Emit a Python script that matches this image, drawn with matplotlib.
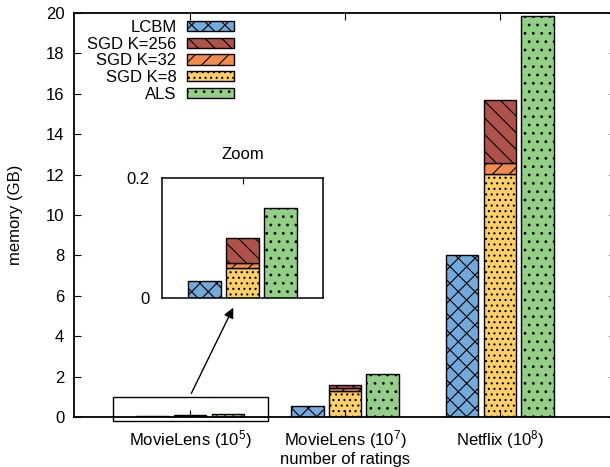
import matplotlib
matplotlib.use("Agg")
import matplotlib.pyplot as plt
from matplotlib.patches import Rectangle
import numpy as np

plt.rcParams['font.family'] = ['Liberation Sans', 'DejaVu Sans']
plt.rcParams['mathtext.fontset'] = 'custom'
plt.rcParams['mathtext.rm'] = 'Liberation Sans'
plt.rcParams['mathtext.it'] = 'Liberation Sans'
plt.rcParams['hatch.linewidth'] = 0.8

categories = [r'MovieLens (10$^{5}$)', r'MovieLens (10$^{7}$)', r'Netflix (10$^{8}$)']
lcbm = [0.029, 0.55, 8.02]
sgd_k8 = [0.05, 1.29, 12.05]
sgd_k32 = [0.059, 1.46, 12.55]
sgd_k256 = [0.10, 1.60, 15.70]
als = [0.15, 2.12, 19.85]
yticks = [0, 2, 4, 6, 8, 10, 12, 14, 16, 18, 20]

c_lcbm = '#74aadb'
c_256 = '#b0524c'
c_32 = '#f18c4c'
c_8 = '#fdcf68'
c_als = '#93cf86'

fig = plt.figure(figsize=(6.10, 4.67), dpi=100)
ax = fig.add_axes([74/610, 50/467, 542/610, 404/467])

x = np.arange(1, len(categories) + 1)
w = 0.21
off = 0.243


def draw_bars(a):
    k8 = np.array(sgd_k8)
    k32 = np.array(sgd_k32)
    k256 = np.array(sgd_k256)
    h = {}
    h['LCBM'] = a.bar(x - off, lcbm, w, color=c_lcbm, edgecolor='black', hatch='xx', linewidth=1)
    h['SGD K=8'] = a.bar(x, k8, w, color=c_8, edgecolor='black', hatch='...', linewidth=1)
    h['SGD K=32'] = a.bar(x, k32 - k8, w, bottom=k8, color=c_32, edgecolor='black', hatch='//', linewidth=1)
    h['SGD K=256'] = a.bar(x, k256 - k32, w, bottom=k32, color=c_256, edgecolor='black', hatch='\\\\', linewidth=1)
    h['ALS'] = a.bar(x + off, als, w, color=c_als, edgecolor='black', hatch='..', linewidth=1)
    return h


h = draw_bars(ax)
ax.set_xlim(0.25, 3.75)
ax.set_ylim(0, 20)
ax.set_yticks(yticks)
ax.set_xticks(x)
ax.set_xticklabels(categories, fontsize=12)
ax.tick_params(axis='y', labelsize=12, direction='in', right=True, length=5, pad=7)
ax.tick_params(axis='x', direction='in', top=True, length=5, pad=8)
ax.set_ylabel('memory (GB)', fontsize=12)
ax.yaxis.set_label_coords(-0.094, 0.5)
ax.set_xlabel('number of ratings', fontsize=12, labelpad=0.5)
for s in ax.spines.values():
    s.set_linewidth(1.3)

order = ['LCBM', 'SGD K=256', 'SGD K=32', 'SGD K=8', 'ALS']
leg = ax.legend([h[k] for k in order], order, loc='upper right',
                bbox_to_anchor=(234/610, 1 - 20/467), bbox_transform=fig.transFigure,
                frameon=False, markerfirst=False, fontsize=12, handlelength=2.85,
                handleheight=0.58, handletextpad=0.6, labelspacing=0.1,
                borderpad=0, borderaxespad=0)

# zoom box around the smallest group
ax.add_patch(Rectangle((x[0] - 0.5, -0.2), 1.0, 1.2, fill=False, edgecolor='black',
                       linewidth=1, clip_on=False, zorder=5))

# inset
ins = fig.add_axes([162/610, (467-298)/467, 161/610, 120/467])
draw_bars(ins)
ins.set_xlim(x[0] - 0.51, x[0] + 0.51)
ins.set_ylim(0, 0.2)
ins.set_yticks([0, 0.2])
ins.set_yticklabels(['0', '0.2'])
ins.set_xticks([x[0]])
ins.set_xticklabels([])
ins.tick_params(axis='y', labelsize=12, direction='in', length=0, pad=9)
ins.tick_params(axis='x', direction='in', top=True, bottom=False, length=4)
ins.set_title('Zoom', fontsize=12, pad=14)
for s in ins.spines.values():
    s.set_linewidth(1.1)

ax.annotate('', xy=(0.45, -0.06), xycoords=ins.transAxes,
            xytext=(x[0], 1.05), textcoords=ax.transData,
            arrowprops=dict(arrowstyle='-|>', color='black', lw=1, mutation_scale=15))

fig.savefig('out.png', dpi=100)
